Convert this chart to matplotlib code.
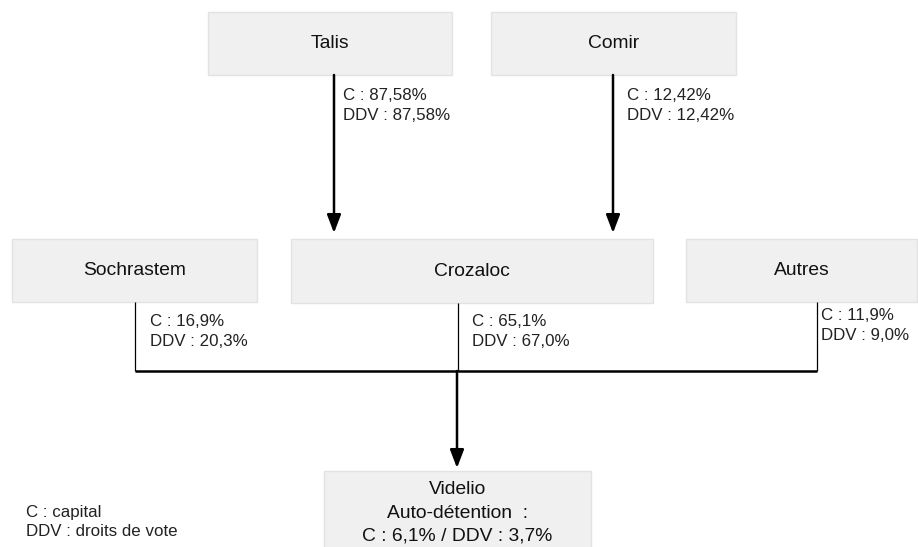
import matplotlib
matplotlib.use("Agg")
import matplotlib.pyplot as plt
from matplotlib.patches import Rectangle

plt.rcParams['font.family'] = ['Liberation Sans', 'DejaVu Sans']

# Data
top_entities = ["Talis", "Comir"]
top_capital = ["87,58%", "12,42%"]
top_votes = ["87,58%", "12,42%"]

mid_entities = ["Sochrastem", "Crozaloc", "Autres"]
mid_capital = ["16,9%", "65,1%", "11,9%"]
mid_votes = ["20,3%", "67,0%", "9,0%"]

target_name = "Videlio"
target_self_capital = "6,1%"
target_self_votes = "3,7%"

legend_lines = ["C : capital", "DDV : droits de vote"]

# Layout (pixels)
W, H = 918, 547
fig = plt.figure(figsize=(W / 100, H / 100), dpi=100)
ax = fig.add_axes([0, 0, 1, 1])
ax.set_xlim(0, W)
ax.set_ylim(H, 0)
ax.axis('off')

box_fc = "#f0f0f0"
box_ec = "#e2e2e2"
fs_box = 13.9
fs_lab = 12.2

def box(x0, y0, x1, y1):
    ax.add_patch(Rectangle((x0, y0), x1 - x0, y1 - y0, facecolor=box_fc,
                           edgecolor=box_ec, linewidth=1, zorder=1))

top_boxes = [(208, 12, 452, 75), (491, 12, 736, 75)]
top_line_x = [334, 613]
top_label_x = [343, 627]

mid_boxes = [(12, 239, 257, 302), (291, 239, 653, 303), (686, 239, 917, 302)]
mid_line_x = [135, 458, 817]
mid_label_x = [150, 472, 821]
mid_label_y = [321, 322, 316]

for (x0, y0, x1, y1), name in zip(top_boxes, top_entities):
    box(x0, y0, x1, y1)
    ax.text((x0 + x1) / 2, (y0 + y1) / 2, name, ha='center', va='center',
            fontsize=fs_box, color='#111111')

for (x0, y0, x1, y1), name in zip(mid_boxes, mid_entities):
    box(x0, y0, x1, y1)
    ax.text((x0 + x1) / 2, (y0 + y1) / 2, name, ha='center', va='center',
            fontsize=fs_box, color='#111111')

# Arrows top -> Crozaloc
for lx, c, v, tx in zip(top_line_x, top_capital, top_votes, top_label_x):
    ax.annotate("", xy=(lx, 233), xytext=(lx, 75),
                arrowprops=dict(arrowstyle="-|>,head_length=1.1,head_width=0.42",
                                color='black', lw=1.8, shrinkA=0, shrinkB=0))
    ax.text(tx, 96, f"C : {c}", ha='left', va='center', fontsize=fs_lab, color='#222222')
    ax.text(tx, 115, f"DDV : {v}", ha='left', va='center', fontsize=fs_lab, color='#222222')

# Mid vertical connectors and labels
hy = 371
for lx, c, v, tx, ty, (x0, y0, x1, y1) in zip(mid_line_x, mid_capital, mid_votes,
                                               mid_label_x, mid_label_y, mid_boxes):
    ax.plot([lx, lx], [y1, hy], color='black', lw=0.9, solid_capstyle='butt')
    ax.text(tx, ty, f"C : {c}", ha='left', va='center', fontsize=fs_lab, color='#222222')
    ax.text(tx, ty + 20, f"DDV : {v}", ha='left', va='center', fontsize=fs_lab, color='#222222')

ax.plot([mid_line_x[0], mid_line_x[-1]], [hy, hy], color='black', lw=1.8,
        solid_capstyle='butt')

# Target box
tb = (324, 471, 591, 560)
box(*tb)
tcx = (tb[0] + tb[2]) / 2
ax.annotate("", xy=(457, 468), xytext=(457, hy),
            arrowprops=dict(arrowstyle="-|>,head_length=1.1,head_width=0.42",
                            color='black', lw=1.8, shrinkA=0, shrinkB=0))
ax.text(tcx, 489, target_name, ha='center', va='center', fontsize=fs_box, color='#111111')
ax.text(tcx, 513, "Auto-détention  :", ha='center', va='center', fontsize=fs_box, color='#111111')
ax.text(tcx, 536, f"C : {target_self_capital} / DDV : {target_self_votes}",
        ha='center', va='center', fontsize=fs_box, color='#111111')

# Legend
ax.text(26, 512, legend_lines[0], ha='left', va='center', fontsize=fs_lab, color='#222222')
ax.text(26, 531, legend_lines[1], ha='left', va='center', fontsize=fs_lab, color='#222222')

fig.savefig("out.png", dpi=100)
